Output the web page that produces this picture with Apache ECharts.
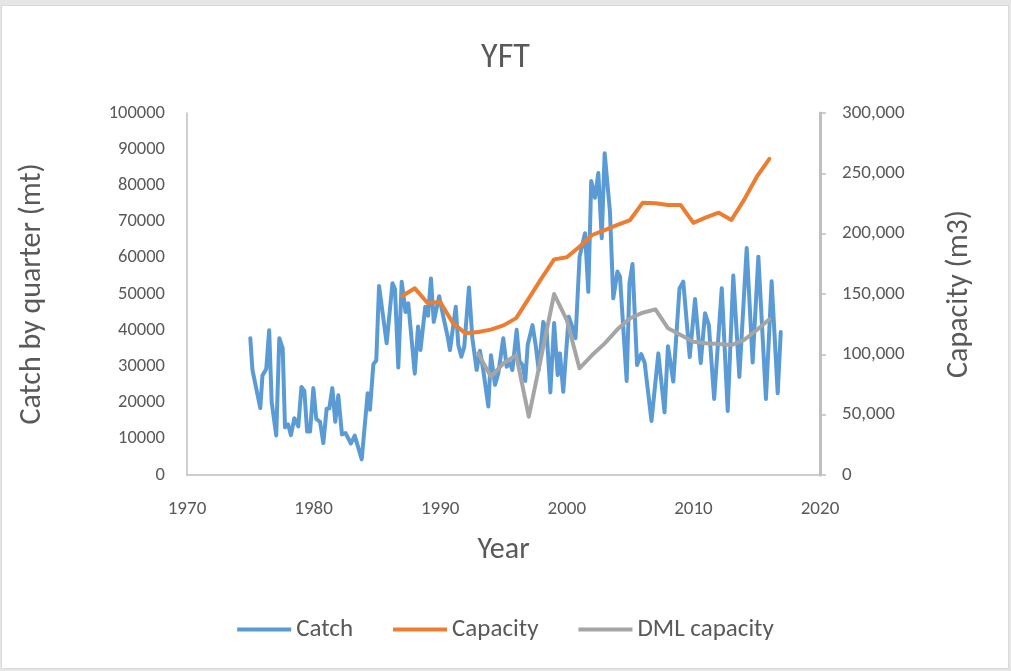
<!DOCTYPE html>
<html>
<head>
<meta charset="utf-8">
<title>YFT</title>
<script src="https://cdn.jsdelivr.net/npm/echarts@6/dist/echarts.min.js"></script>
<style>
  html, body { margin: 0; padding: 0; background: #fff; }
  .sheet { position: absolute; left: 0; top: 0; width: 1011px; height: 671px; background: #e6e6e6; }
  .frame { position: absolute; left: 1px; top: 5px; width: 1008px; height: 664px; background: #fff; border: 1px solid #d9d9d9; box-sizing: border-box; }
  #chart { position: absolute; left: 0; top: 0; width: 1011px; height: 671px; }
</style>
</head>
<body>
<div class="sheet"><div class="frame"></div></div>
<div id="chart"></div>
<script>
// catch by quarter (mt): decimal year / value
const catchYear = [
  1975.00, 1975.17, 1975.79, 1975.96, 1976.26, 1976.49, 1976.69, 1977.05, 1977.29, 1977.56,
  1977.74, 1977.98, 1978.21, 1978.48, 1978.79, 1979.04, 1979.27, 1979.49, 1979.72, 1979.98,
  1980.21, 1980.51, 1980.77, 1981.03, 1981.24, 1981.48, 1981.71, 1981.95, 1982.24, 1982.52,
  1982.95, 1983.25, 1983.80, 1984.27, 1984.45, 1984.72, 1984.95, 1985.17, 1985.77, 1986.23,
  1986.43, 1986.69, 1986.96, 1987.26, 1987.48, 1987.99, 1988.25, 1988.44, 1988.82, 1989.04,
  1989.27, 1989.49, 1989.92, 1990.25, 1990.59, 1990.77, 1991.23, 1991.43, 1991.67, 1991.90,
  1992.27, 1992.54, 1992.88, 1993.14, 1993.40, 1993.80, 1994.01, 1994.33, 1994.59, 1994.98,
  1995.25, 1995.51, 1995.70, 1996.04, 1996.26, 1996.50, 1996.72, 1996.91, 1997.29, 1997.54,
  1997.78, 1998.14, 1998.41, 1998.70, 1999.00, 1999.28, 1999.46, 1999.72, 2000.15, 2000.39,
  2000.69, 2001.01, 2001.44, 2001.70, 2001.93, 2002.23, 2002.49, 2002.76, 2002.99, 2003.41,
  2003.67, 2004.00, 2004.20, 2004.73, 2004.95, 2005.19, 2005.55, 2005.88, 2006.15, 2006.69,
  2007.23, 2007.72, 2007.99, 2008.41, 2008.90, 2009.20, 2009.71, 2010.13, 2010.58, 2010.92,
  2011.22, 2011.64, 2012.24, 2012.71, 2013.15, 2013.63, 2014.21, 2014.68, 2015.13, 2015.73,
  2016.18, 2016.66, 2016.90
];
const catchValue = [
  37800, 29000, 18500, 27500, 29300, 40000, 20000, 10900, 37800, 35000,
  13200, 14000, 11000, 15700, 13400, 24300, 23200, 12000, 12000, 24000,
  15500, 14700, 8800, 18300, 18400, 24000, 14700, 22000, 11200, 11600,
  8700, 10900, 4300, 22600, 18000, 30600, 31600, 52200, 36400, 53000,
  51300, 29700, 53400, 45000, 47400, 28000, 41000, 34500, 46500, 44000,
  54300, 42300, 49400, 43700, 38200, 34500, 46500, 35900, 32700, 35400,
  51800, 37800, 29000, 34300, 29000, 18900, 33100, 24900, 28100, 37800,
  29900, 30900, 29000, 40100, 31500, 30400, 26000, 35900, 41400, 35900,
  29000, 42300, 39600, 22800, 42000, 27600, 33600, 23000, 43700, 41400,
  37800, 60300, 66800, 50600, 81200, 76600, 83400, 65400, 88900, 72700,
  48800, 56200, 54800, 26000, 53000, 58300, 30400, 33400, 31000, 14900,
  33600, 17300, 35600, 25800, 51500, 53400, 32600, 48600, 30900, 44700,
  41400, 21000, 51600, 17700, 55100, 27100, 62700, 31100, 60300, 21000,
  53500, 22600, 39500
];

// fleet capacity (m3), one value per year
const capacityYear = [
  1987, 1988, 1989, 1990, 1991, 1992, 1993, 1994, 1995, 1996,
  1997, 1998, 1999, 2000, 2001, 2002, 2003, 2004, 2005, 2006,
  2007, 2008, 2009, 2010, 2011, 2012, 2013, 2014, 2015, 2016
];
const capacityValue = [
  148300, 154700, 142500, 143300, 126000, 117400, 118500, 120500, 124000, 130000,
  146400, 163000, 178700, 180400, 189200, 198900, 203000, 207200, 211300, 225700,
  225200, 223700, 223700, 209000, 213500, 217400, 211300, 228000, 247000, 262000
];

const dmlYear = [
  1993, 1994, 1995, 1996, 1997, 1998, 1999, 2000, 2001, 2002,
  2003, 2004, 2005, 2006, 2007, 2008, 2009, 2010, 2011, 2012,
  2013, 2014, 2015, 2016
];
const dmlValue = [
  100800, 81500, 92600, 99400, 48300, 99000, 150000, 128400, 88400, 99400,
  109100, 120700, 129900, 134500, 137300, 121600, 116000, 110500, 109100, 108500,
  107700, 111900, 120200, 129000
];

const yearTicks = [1970, 1980, 1990, 2000, 2010, 2020];

const pairs = (xs, ys) => xs.map((x, i) => [x, ys[i]]);
const txt = '#595959';
const axisGrey = '#bfbfbf';
const font = 'Carlito, Lato, "Open Sans", sans-serif';

const chart = echarts.init(document.getElementById('chart'), null, { renderer: 'canvas' });
chart.setOption({
  backgroundColor: 'transparent',
  animation: false,
  textStyle: { fontFamily: font, color: txt },
  title: {
    text: 'YFT',
    left: 'center',
    top: 36,
    textStyle: { fontFamily: font, fontSize: 34, fontWeight: 300, color: txt }
  },
  legend: {
    bottom: 24,
    left: 'center',
    itemGap: 40,
    itemWidth: 54,
    itemHeight: 4,
    icon: 'rect',
    textStyle: { fontFamily: font, fontSize: 25, color: txt },
    data: ['Catch', 'Capacity', 'DML capacity']
  },
  grid: { left: 187, right: 191, top: 113, bottom: 196 },
  xAxis: {
    type: 'value',
    min: yearTicks[0],
    max: yearTicks[yearTicks.length - 1],
    interval: 10,
    name: 'Year',
    nameLocation: 'middle',
    nameGap: 60,
    nameTextStyle: { fontFamily: font, fontSize: 30, color: txt },
    axisLine: { show: true, lineStyle: { color: axisGrey, width: 1.5 } },
    axisTick: { show: false },
    splitLine: { show: false },
    axisLabel: { fontFamily: font, fontSize: 19, color: txt, margin: 25, formatter: v => String(v) }
  },
  yAxis: [
    {
      type: 'value',
      min: 0,
      max: 100000,
      interval: 10000,
      name: 'Catch by quarter (mt)',
      nameLocation: 'middle',
      nameGap: 140,
      nameTextStyle: { fontFamily: font, fontSize: 30, color: txt },
      axisLine: { show: true, lineStyle: { color: axisGrey, width: 1.5 } },
      axisTick: { show: false },
      splitLine: { show: false },
      axisLabel: { fontFamily: font, fontSize: 18.5, color: txt, margin: 22, formatter: v => String(v) }
    },
    {
      type: 'value',
      min: 0,
      max: 300000,
      interval: 50000,
      name: 'Capacity (m3)',
      nameLocation: 'middle',
      nameGap: 124,
      nameTextStyle: { fontFamily: font, fontSize: 30, color: txt },
      axisLine: { show: true, lineStyle: { color: axisGrey, width: 3 } },
      axisTick: { show: true, inside: false, length: 6, lineStyle: { color: axisGrey, width: 1.5 } },
      splitLine: { show: false },
      axisLabel: {
        fontFamily: font, fontSize: 19, color: txt, margin: 22,
        formatter: v => v.toLocaleString('en-US')
      }
    }
  ],
  series: [
    {
      name: 'Catch',
      type: 'line',
      yAxisIndex: 0,
      data: pairs(catchYear, catchValue),
      showSymbol: false,
      color: '#5b9bd5',
      lineStyle: { width: 4, color: '#5b9bd5', cap: 'round', join: 'round' },
      z: 2
    },
    {
      name: 'Capacity',
      type: 'line',
      yAxisIndex: 1,
      data: pairs(capacityYear, capacityValue),
      showSymbol: false,
      color: '#ed7d31',
      lineStyle: { width: 4, color: '#ed7d31', cap: 'round', join: 'round' },
      z: 3
    },
    {
      name: 'DML capacity',
      type: 'line',
      yAxisIndex: 1,
      data: pairs(dmlYear, dmlValue),
      showSymbol: false,
      color: '#a5a5a5',
      lineStyle: { width: 4, color: '#a5a5a5', cap: 'round', join: 'round' },
      z: 4
    }
  ]
});
</script>
</body>
</html>
